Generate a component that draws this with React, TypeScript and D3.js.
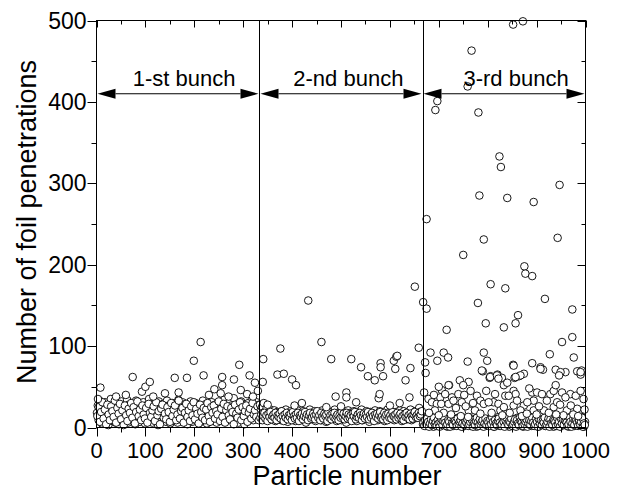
import React from 'react';
import * as d3 from 'd3';

// Dense bands of values, particles spread evenly across each bunch
const bunch1Band = [
  18,27,9,33,14,22,5,29,12,20,31,7,24,16,3,26,11,35,19,8,
  28,15,23,6,30,13,21,4,25,17,32,10,27,14,8,22,19,34,6,28,
  12,24,16,30,9,20,26,4,33,15,11,23,29,7,18,25,13,31,21,5,
  27,16,9,24,35,12,19,28,6,22,14,30,10,26,17,3,32,20,8,25,
  15,29,11,23,18,7,33,13,27,21,5,24,16,30,9,19,28,12,22,6,
  34,15,26,10,20,31,8,24,14,29,17,4,27,21,11,32,18,7,25,13,
  23,30,9,19,28,15,6,26,22,12,33,17,10,24,29,5,21,14,27,19,
  8,31,16,23,11,28,20,6,25,13,30,18,9,26,15,22,34,7,20,28,
  12,24,17,31,10,27,14,21,36,9,18,25,13,29,6,22,16,32,11,26,
  19,4,28,15,23,8,30,17,12,25,20,35,9,27,14,22,31,16,24,28,
];
const bunch1Band2 = [
  14,25,7,19,31,11,22,4,28,16,9,26,20,13,33,6,24,17,29,10,
  21,3,27,15,8,23,18,30,12,25,5,19,32,14,22,9,27,16,11,24,
  6,29,18,13,21,26,8,31,15,20,4,23,28,12,17,10,25,19,7,30,
  14,22,27,9,16,33,11,20,24,6,18,29,13,21,8,26,15,31,10,23,
  17,5,28,19,12,24,9,22,30,14,7,25,18,27,11,20,16,32,8,23,
  13,29,6,21,26,15,10,24,19,4,28,17,12,22,31,9,25,14,20,27,
  7,18,23,11,30,16,21,13,26,9,
];
const bunch2Band = [
  28,22,25,18,30,14,20,24,16,12,19,22,10,17,14,21,8,15,19,12,
  18,16,9,20,13,17,11,22,15,7,18,14,20,10,16,19,12,8,17,21,
  13,15,9,18,14,20,11,16,6,19,13,17,22,10,15,18,12,20,8,14,
  17,11,19,16,9,21,13,15,18,7,12,20,16,10,17,14,19,11,22,15,
  8,18,13,16,20,9,14,17,12,19,6,15,21,11,18,14,16,10,20,13,
  17,8,19,15,12,18,22,9,14,16,11,20,13,17,7,19,15,10,18,12,
  21,14,16,9,17,20,11,15,13,19,8,18,14,22,10,16,12,20,15,17,
  9,13,19,11,18,14,21,16,8,12,20,15,17,10,19,13,16,22,9,14,
  18,11,20,15,12,17,24,19,14,16,
];
const bunch2Band2 = [
  12,16,9,14,18,11,15,8,17,13,19,10,14,16,12,18,9,15,13,17,
  11,20,14,8,16,12,18,10,15,13,17,9,19,14,11,16,12,18,8,15,
  13,17,10,14,19,12,16,9,15,18,11,13,17,14,10,16,20,12,15,9,
  18,13,11,17,14,16,8,19,12,15,10,17,13,18,11,14,16,9,15,12,
  19,13,17,10,14,18,11,16,12,15,8,17,14,19,10,13,16,12,18,15,
  9,14,17,11,16,13,19,10,15,12,18,14,8,16,13,17,11,15,19,12,
  14,10,18,13,16,9,17,12,15,11,19,14,13,16,10,18,12,15,17,11,
  14,9,16,13,18,12,15,10,17,14,11,16,19,13,15,12,18,14,16,20,
];
const bunch3Band = [
  4,8,2,11,6,3,9,5,12,1,7,4,10,6,2,8,5,13,3,9,
  7,1,11,4,6,10,2,8,5,3,12,7,4,9,1,6,10,3,8,5,
  11,2,7,4,9,6,1,12,5,3,8,10,4,7,2,9,6,11,3,5,
  8,1,10,4,7,13,2,6,9,5,3,11,8,4,1,7,10,6,2,9,
  5,12,3,8,4,7,1,10,6,3,9,11,5,2,8,4,7,12,6,1,
  9,3,10,5,8,2,11,4,7,6,3,9,1,12,5,8,4,10,2,7,
  6,11,3,9,5,1,8,12,4,7,2,10,6,3,9,5,13,8,1,7,
];
const bunch3Band2 = [
  6,2,9,4,11,7,1,5,10,3,8,12,4,6,2,9,5,1,7,10,
  3,8,11,6,2,4,9,7,1,12,5,3,10,8,6,2,11,4,7,9,
  1,5,12,3,8,6,10,2,4,7,11,9,1,5,3,8,12,6,2,10,
  4,7,9,1,5,11,3,8,6,2,10,4,12,7,1,9,5,3,8,11,
  6,2,4,10,7,1,9,12,5,3,8,6,11,2,4,7,10,1,9,5,
  3,12,8,6,2,11,4,7,10,1,5,9,3,8,12,6,2,4,11,7,
  1,10,5,9,3,8,6,12,2,4,7,11,1,10,5,3,9,8,6,2,
  12,4,7,1,11,5,10,3,9,8,6,2,4,12,7,1,5,11,3,10,
  9,6,2,8,4,7,12,1,5,3,
];

// Scattered particles [particle number, penetrations]
const bunch1Scatter: [number, number][] = [
  [8,49],[3,35],[40,38],[60,40],[74,62],[93,44],[100,50],[109,56],[116,38],[140,42],
  [160,61],[168,43],[185,61],[199,82],[213,105],[219,64],[230,40],[241,47],[254,42],
  [257,62],[257,52],[270,38],[281,59],[292,77],[295,46],[308,41],[313,64],[320,38],
  [324,55],[330,45],
];
const bunch2Scatter: [number, number][] = [
  [340,56],[341,84],[350,28],[370,65],[376,97],[383,66],[400,59],[405,27],[408,52],
  [420,30],[433,156],[460,105],[470,25],[480,84],[489,38],[500,26],[511,43],[511,37],
  [521,84],[531,31],[541,74],[555,63],[569,58],[577,36],[579,41],[581,79],[581,74],
  [586,63],[600,27],[608,82],[611,72],[613,87],[615,88],[620,30],[632,58],[640,37],
  [642,73],[651,173],[659,98],
];
const bunch3Scatter: [number, number][] = [
  [852,495],[872,499],[767,463],[759,419],[697,401],[693,390],[781,387],[824,333],
  [827,320],[947,298],[675,256],[783,285],[840,282],[894,277],[792,231],[943,233],
  [750,212],[875,198],[877,189],[891,186],[806,176],[836,171],[917,158],[668,154],
  [675,146],[780,153],[973,145],[716,120],[796,128],[833,123],[857,128],[862,138],
  [952,105],[973,111],
  [683,92],[672,80],[673,67],[697,82],[710,92],[719,86],[759,81],[792,92],[799,82],
  [790,69],[804,61],[806,63],[820,65],[829,61],[852,77],[855,61],[864,63],[874,66],
  [891,79],[908,74],[913,71],[927,90],[939,71],[959,68],[976,86],[983,69],[992,70],
  [990,65],[743,58],[761,56],[721,52],[706,46],[788,70],[805,62],[819,64],[822,60],
  [853,76],[867,64],[857,62],[908,72],[949,68],[946,64],[990,68],
  [670,43],[679,35],[686,31],[696,29],[692,21],[703,37],[713,41],[720,52],[705,29],
  [720,29],[727,37],[730,33],[750,52],[740,41],[747,31],[761,21],[774,21],[778,39],
  [785,33],[792,29],[815,41],[812,31],[802,31],[822,29],[826,21],[836,39],[833,52],
  [853,45],[857,41],[843,39],[891,43],[901,43],[911,41],[928,41],[935,45],[939,52],
  [952,43],[969,41],[996,35],[894,33],[921,33],[959,37],[980,39],[853,27],[874,27],
  [894,21],[915,21],[935,25],[962,21],[983,23],[833,25],[867,21],[881,31],[942,31],
  [690,40],[710,18],[735,24],[765,45],[770,30],[755,26],[797,45],[808,18],[845,18],
  [860,33],[885,48],[905,26],[925,18],[948,28],[970,27],[975,16],[998,22],[680,18],
  [700,50],[752,40],[840,55],[990,45],[700,15],[725,16],[745,14],[785,17],[830,15],
  [870,14],[900,16],[955,15],[985,14],[760,13],[880,17],[940,16],
];

const bunchBounds = [0, 333.3, 666.7, 1000];
const bunchLabels = ['1-st bunch', '2-nd bunch', '3-rd bunch'];
const bunchLabelX = [179, 515, 858];
const arrowLevel = 410;

const xTicks = [0, 100, 200, 300, 400, 500, 600, 700, 800, 900, 1000];
const xMinorTicks = [50, 150, 250, 350, 450, 550, 650, 750, 850, 950];
const yTicks = [0, 100, 200, 300, 400, 500];
const yMinorTicks = [50, 150, 250, 350, 450];

const FONT = "'Liberation Sans', Arial, Helvetica, sans-serif";

export default function App() {
  const W = 621, H = 496;
  const L = 96.5, R = 585.5, T = 20.5, B = 427.5;
  const x = d3.scaleLinear().domain([0, 1000]).range([L, R]);
  const y = d3.scaleLinear().domain([0, 500]).range([B, T]);

  const bandSets: [number[], number][] = [
    [bunch1Band, 0], [bunch1Band2, 1], [bunch2Band, 0], [bunch2Band2, 1], [bunch3Band, 0], [bunch3Band2, 1],
  ];
  const points: [number, number][] = [];
  bandSets.forEach(([arr, k], idx) => {
    const bi = Math.floor(idx / 2);
    const x0 = bunchBounds[bi] + 1 + k * 0.8;
    const x1 = bunchBounds[bi + 1] - 1 - k * 0.4;
    arr.forEach((v, i) => points.push([x0 + ((x1 - x0) * i) / (arr.length - 1), v]));
  });
  const scatter = [...bunch1Scatter, ...bunch2Scatter, ...bunch3Scatter];

  const ay = y(arrowLevel);
  const headLen = 18, headHalf = 5;
  const px = (v: number) => Math.round(x(v)) + 0.5;
  const py = (v: number) => Math.round(y(v)) + 0.5;

  return (
    <svg width={W} height={H} style={{ position: 'absolute', left: 0, top: 0, background: '#fff' }}
      fontFamily={FONT}>
      <rect x={0} y={0} width={W} height={H} fill="#fff" />
      {/* data */}
      <g fill="#fff" stroke="#000" strokeWidth={0.9}>
        {points.map((p, i) => (
          <circle key={'b' + i} cx={x(p[0])} cy={y(p[1])} r={3.8} />
        ))}
        {scatter.map((p, i) => (
          <circle key={'s' + i} cx={x(p[0])} cy={y(p[1])} r={3.8} />
        ))}
      </g>
      {/* bunch separators */}
      {bunchBounds.slice(1, 3).map((b, i) => (
        <line key={'v' + i} x1={px(b)} x2={px(b)} y1={T} y2={B} stroke="#000" strokeWidth={1} />
      ))}
      {/* arrows */}
      {bunchLabels.map((lab, i) => {
        const xa = x(bunchBounds[i]) + 1;
        const xb = x(bunchBounds[i + 1]) - 1;
        return (
          <g key={'a' + i}>
            <line x1={xa + headLen} x2={xb - headLen} y1={ay} y2={ay} stroke="#000" strokeWidth={1} />
            <path d={`M${xa},${ay} L${xa + headLen},${ay - headHalf} L${xa + headLen},${ay + headHalf} Z`} fill="#000" />
            <path d={`M${xb},${ay} L${xb - headLen},${ay - headHalf} L${xb - headLen},${ay + headHalf} Z`} fill="#000" />
            <text x={x(bunchLabelX[i])} y={ay - 8} textAnchor="middle" fontSize={22} fill="#000">{lab}</text>
          </g>
        );
      })}
      {/* frame */}
      <rect x={L} y={T} width={R - L} height={B - T} fill="none" stroke="#000" strokeWidth={1} />
      {/* bottom ticks (outward) */}
      {xTicks.map((t) => (
        <line key={'xt' + t} x1={px(t)} x2={px(t)} y1={B} y2={B + 9} stroke="#000" />
      ))}
      {xMinorTicks.map((t) => (
        <line key={'xm' + t} x1={px(t)} x2={px(t)} y1={B} y2={B + 5} stroke="#000" />
      ))}
      {/* top ticks (inward) */}
      {xTicks.map((t) => (
        <line key={'xtt' + t} x1={px(t)} x2={px(t)} y1={T} y2={T + 7} stroke="#000" />
      ))}
      {xMinorTicks.map((t) => (
        <line key={'xmt' + t} x1={px(t)} x2={px(t)} y1={T} y2={T + 4} stroke="#000" />
      ))}
      {/* left ticks (outward) */}
      {yTicks.map((t) => (
        <line key={'yt' + t} x1={L - 9} x2={L} y1={py(t)} y2={py(t)} stroke="#000" />
      ))}
      {yMinorTicks.map((t) => (
        <line key={'ym' + t} x1={L - 5} x2={L} y1={py(t)} y2={py(t)} stroke="#000" />
      ))}
      {/* right ticks (inward) */}
      {yTicks.map((t) => (
        <line key={'ytr' + t} x1={R - 8} x2={R} y1={py(t)} y2={py(t)} stroke="#000" />
      ))}
      {yMinorTicks.map((t) => (
        <line key={'ymr' + t} x1={R - 4} x2={R} y1={py(t)} y2={py(t)} stroke="#000" />
      ))}
      {/* tick labels */}
      {xTicks.map((t) => (
        <text key={'xl' + t} x={x(t)} y={458} textAnchor="middle" fontSize={22} fill="#000">{t}</text>
      ))}
      {yTicks.map((t) => (
        <text key={'yl' + t} x={L - 10} y={y(t) + 8} textAnchor="end" fontSize={23} fill="#000">{t}</text>
      ))}
      {/* axis titles */}
      <text x={(L + R) / 2 + 6} y={485} textAnchor="middle" fontSize={27} fill="#000">Particle number</text>
      <text transform={`translate(36,${(T + B) / 2 - 2}) rotate(-90)`} textAnchor="middle" fontSize={27} fill="#000">
        Number of foil penetrations
      </text>
    </svg>
  );
}
